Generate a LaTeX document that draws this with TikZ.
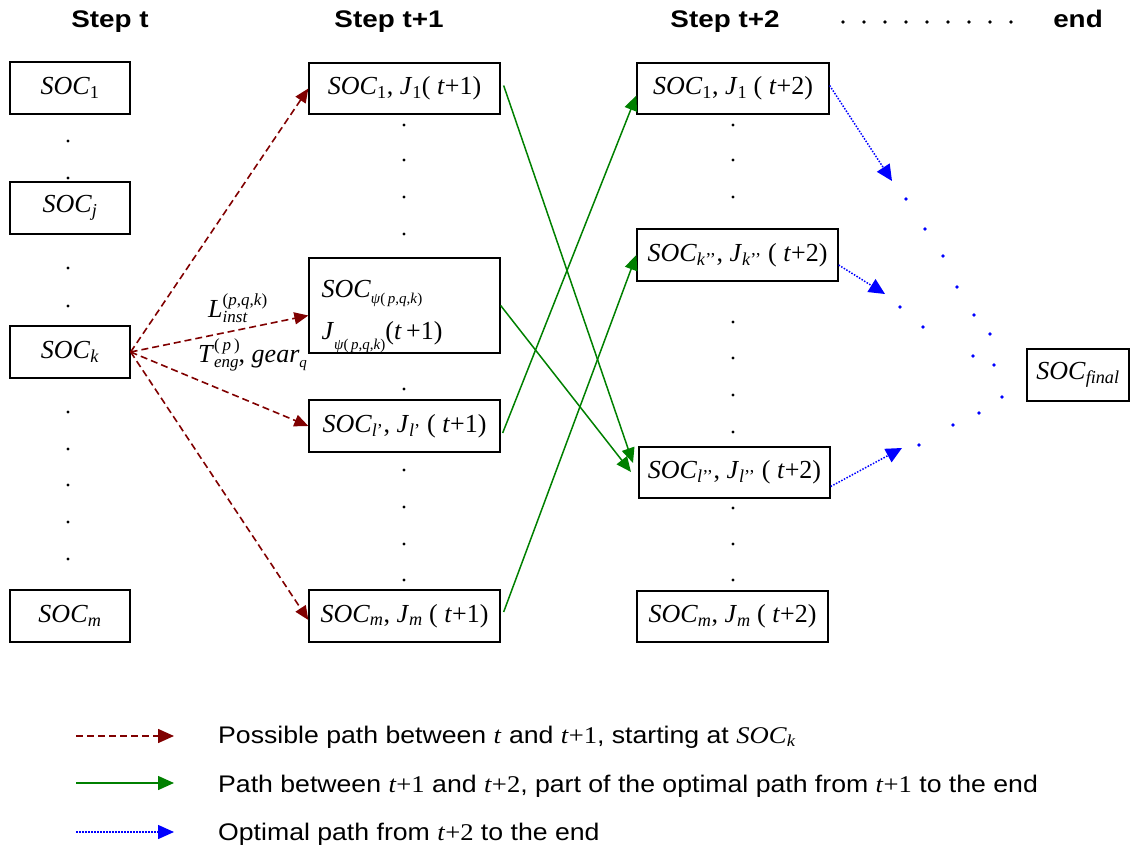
\documentclass[tikz,border=0pt]{standalone}
\usepackage{fontspec}
\setmainfont{Liberation Serif}
\setsansfont{Liberation Sans}
\usetikzlibrary{arrows.meta}
\definecolor{dred}{RGB}{128,0,0}
\definecolor{dgreen}{RGB}{0,128,0}
\definecolor{bblue}{RGB}{0,0,255}
\newcommand{\I}[1]{\textit{#1}}
\newcommand{\Sb}[1]{\textsubscript{#1}}
\newcommand{\Hd}[1]{\scalebox{1.16}[1]{\sffamily\bfseries\fontsize{24}{28}\selectfont #1}}
\newcommand{\Lg}[1]{\scalebox{1.11}[1]{\sffamily\fontsize{24}{28}\selectfont #1}}
\newcommand{\psub}{{\fontsize{15}{15}\selectfont\I{ψ}(\,\I{p},\I{q},\I{k})}}
\begin{document}
\begin{tikzpicture}[x=1pt,y=-1pt,
  box/.style={draw,line width=1.3pt,inner sep=0pt,font=\fontsize{26}{30}\selectfont},
  hdr/.style={anchor=base,inner sep=0pt},
  lgd/.style={anchor=base west,inner sep=0pt},
  lbl/.style={anchor=base west,inner sep=0pt,font=\fontsize{26}{30}\selectfont},
  redarr/.style={dred,line width=1.6pt,dash pattern=on 7pt off 4pt,-{Triangle[length=14pt,width=12pt]}},
  grnarr/.style={dgreen,line width=1.5pt,-{Triangle[length=15pt,width=13pt]}},
  bluarr/.style={bblue,line width=1.5pt,dash pattern=on 1.5pt off 1.5pt,-{Triangle[length=16pt,width=15pt]}},
  kdot/.style={fill=black},
  bdot/.style={fill=bblue}]
\useasboundingbox (0,0) rectangle (1130,858);

% headers
\node[hdr] (h0) at (110,28) {\Hd{Step t}};
\node[hdr] (h1) at (389,28) {\Hd{Step t+1}};
\node[hdr] (h2) at (725,28) {\Hd{Step t+2}};
\node[hdr] (h3) at (1078,28) {\Hd{end}};
\foreach \i in {0,...,8} \fill[kdot] ({843+21*\i},22) circle[radius=1.9pt];

% step t
\node[box,minimum width=120pt,minimum height=52pt] (a1) at (70,88) {\I{SOC}\Sb{1}};
\node[box,minimum width=120pt,minimum height=52pt] (aj) at (70,208) {\I{SOC}\Sb{\I{j}}};
\node[box,minimum width=120pt,minimum height=52pt] (ak) at (70,352) {\I{SOC}\Sb{\I{k}}};
\node[box,minimum width=120pt,minimum height=52pt] (am) at (70,616) {\I{SOC}\Sb{\I{m}}};
\foreach \y in {141,178,268,306,412,449,485,522,559} \fill[kdot] (68,\y) circle[radius=1.6pt];

% step t+1
\node[box,minimum width=191pt,minimum height=51pt] (b1) at (404.5,88.5) {\I{SOC}\Sb{1}, \I{J}\Sb{1}( \I{t}+1)};
\node[box,minimum width=191pt,minimum height=95pt,align=left,text width=166pt] (bp) at (404.5,305.5)
  {\rule{0pt}{40pt}\I{SOC}\raisebox{-6pt}{\psub}\\[12pt] \I{J}\raisebox{-10pt}{\psub}(\I{t}\,+1)};
\node[box,minimum width=191pt,minimum height=52pt] (bl) at (404.5,426) {\I{SOC}\Sb{\I{l}’}, \I{J}\Sb{\I{l}’} ( \I{t}+1)};
\node[box,minimum width=191pt,minimum height=52pt] (bm) at (404.5,616) {\I{SOC}\Sb{\I{m}}, \I{J}\Sb{\I{m}} ( \I{t}+1)};
\foreach \y in {125,160,197,234,389,470,507,544,580} \fill[kdot] (404,\y) circle[radius=1.6pt];

% step t+2
\node[box,minimum width=192pt,minimum height=51pt] (c1) at (733,88.5) {\I{SOC}\Sb{1}, \I{J}\Sb{1} ( \I{t}+2)};
\node[box,minimum width=201pt,minimum height=52pt] (ck) at (737.5,255) {\I{SOC}\Sb{\I{k}’’}, \I{J}\Sb{\I{k}’’} ( \I{t}+2)};
\node[box,minimum width=191pt,minimum height=51pt] (cl) at (734.5,472.5) {\I{SOC}\Sb{\I{l}’’}, \I{J}\Sb{\I{l}’’} ( \I{t}+2)};
\node[box,minimum width=191pt,minimum height=51pt] (cm) at (732.5,616.5) {\I{SOC}\Sb{\I{m}}, \I{J}\Sb{\I{m}} ( \I{t}+2)};
\foreach \y in {125,160,197,322,358,395,432,508,544,580} \fill[kdot] (733,\y) circle[radius=1.6pt];

% final
\node[box,minimum width=102pt,minimum height=52pt] (fin) at (1078,375) {\I{SOC}\Sb{\I{final}}};
\foreach \p in {(906,199),(925,229),(943,256),(957,287),(974,315),(990,334),(994,365),(1002,397),(979,413),(953,425),(919,445),(900,307),(923,327),(973,356)}
  \fill[bdot] \p circle[radius=1.8pt];

% labels
\node[lbl] (lL) at (208,318) {\I{L}\rlap{\raisebox{12pt}{\fontsize{17}{17}\selectfont(\I{p},\I{q},\I{k})}}\raisebox{-5pt}{\fontsize{17}{17}\selectfont\I{inst}}};
\node[lbl] (lT) at (198,363) {\I{T}\rlap{\raisebox{12pt}{\fontsize{17}{17}\selectfont(\,\I{p}\,)}}\raisebox{-5pt}{\fontsize{17}{17}\selectfont\I{eng}}, \I{gear}\raisebox{-5pt}{\fontsize{15}{15}\selectfont\I{q}}};

% red arrows
\coordinate (src) at (ak.east);
\draw[redarr] (src) -- (b1.west);
\draw[redarr] (src) -- ([yshift=-10pt]bp.west);
\draw[redarr] (src) -- (bl.west);
\draw[redarr] (src) -- ([yshift=-4pt]bm.west);

% green arrows
\coordinate (g1) at (633,463);
\coordinate (g2) at (631,472);
\draw[grnarr] ([xshift=3pt,yshift=3pt]b1.east) -- (g1);
\draw[grnarr] (bp.east) -- (g2);
\draw[grnarr] ([xshift=2pt,yshift=-7pt]bl.east) -- ([yshift=-7pt]c1.west);
\draw[grnarr] ([xshift=3pt,yshift=4pt]bm.east) -- (ck.west);

% blue arrows
\coordinate (q1) at (892,181);
\coordinate (q2) at (885,294);
\coordinate (q3) at (902,448);
\draw[bluarr] ([yshift=3pt]c1.east) -- (q1);
\draw[bluarr] ([yshift=-10pt]ck.east) -- (q2);
\draw[bluarr] ([yshift=-14pt]cl.east) -- (q3);

% legend
\coordinate (r0) at (76,736); \coordinate (r1) at (174,736);
\coordinate (s0) at (76,783); \coordinate (s1) at (174,783);
\coordinate (u0) at (76,832); \coordinate (u1) at (174,832);
\draw[redarr,-{Triangle[length=16pt,width=14pt]}] (r0) -- (r1);
\draw[grnarr,-{Triangle[length=16pt,width=14pt]}] (s0) -- (s1);
\draw[bluarr,-{Triangle[length=16pt,width=14pt]}] (u0) -- (u1);
\node[lgd] (t1) at (218,743) {\Lg{Possible path between {\rmfamily\I{t}} and {\rmfamily\I{t}+1}, starting at {\rmfamily\I{SOC}\Sb{\I{k}}}}};
\node[lgd] (t2) at (218,792) {\Lg{Path between {\rmfamily\I{t}+1} and {\rmfamily\I{t}+2}, part of the optimal path from {\rmfamily\I{t}+1} to the end}};
\node[lgd] (t3) at (218,840) {\Lg{Optimal path from {\rmfamily\I{t}+2} to the end}};
\end{tikzpicture}
\end{document}
